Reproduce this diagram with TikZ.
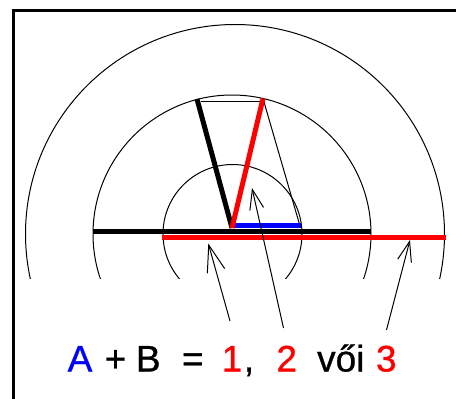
\documentclass[tikz,border=0pt]{standalone}
\usepackage{fontspec}
\setmainfont{Liberation Sans}
\newfontfamily\lblfont[FakeBold=0.8]{Liberation Sans}
\usetikzlibrary{arrows.meta}
\definecolor{pblue}{RGB}{0,0,255}
\definecolor{pred}{RGB}{255,0,0}
\tikzset{
  arcline/.style={line width=1pt, black},
  thinline/.style={line width=1pt, black},
  thick vec/.style={line width=5pt},
  ptr/.style={line width=1pt, -{Straight Barb[length=20pt,width=14pt,line width=1pt]}},
  bigptr/.style={line width=1pt, -{Straight Barb[length=27pt,width=18pt,line width=1pt]}},
  lbl/.style={inner sep=0pt, anchor=base, font=\lblfont\fontsize{37}{40}\selectfont}
}
\begin{document}
\begin{tikzpicture}[x=1pt,y=-1pt]
\useasboundingbox (0,0) rectangle (456,399);
\fill[white] (0,0) rectangle (456,399);
% frame
\draw[line width=2.5pt] (13.5,399) -- (13.5,10.5) -- (456,10.5);
% key points
\coordinate (O) at (232,228);
\coordinate (Btop) at (197,99);
\coordinate (Rtop) at (263,98.5);
\coordinate (Aend) at (300,226);
\coordinate (Bpar) at (201,101);
\coordinate (Rpar) at (262,101);
\coordinate (kL) at (93,231.8);
\coordinate (kR) at (371,231.8);
\coordinate (rL) at (161.5,237.8);
\coordinate (rR) at (446,237.8);
\coordinate (bL) at (233.5,225.5);
\coordinate (bR) at (301,225.5);
% circles
\begin{scope}
\clip (0,0) rectangle (456,278);
\draw[arcline] (232.5,234) circle[radius=69.5];
\draw[arcline] (232,234) circle[radius=139];
\draw[arcline] (235,234) circle[radius=209.5];
\end{scope}
% parallelogram thin sides
\draw[thinline] (Bpar) -- (Rpar);
\draw[thinline] (Rtop) -- (Aend);
% thick lines
\draw[thick vec, black] (kL) -- (kR);
\draw[thick vec, pred] (rL) -- (rR);
\draw[thick vec, pblue] (bL) -- (bR);
\draw[thick vec, black] (Btop) -- (O);
\draw[thick vec, pred] (O) -- (Rtop);
% text
\node[lbl, text=pblue] (tA) at (80,371.5) {A};
\node[lbl] (tPlus) at (115.5,371.5) {+};
\node[lbl] (tB) at (148.3,371.5) {B};
\node[lbl] (tEq) at (192.8,371.5) {=};
\node[lbl, text=pred] (t1) at (232,371.5) {1};
\node[lbl] (tComma) at (249,371.5) {,};
\node[lbl, text=pred] (t2) at (286.7,371.5) {2};
\node[lbl] (tOr) at (340.8,371.5) {vői};
\node[lbl, text=pred] (t3) at (386.3,371.5) {3};
% pointers
\coordinate (a1s) at (230,321);
\coordinate (a1e) at (208.3,243.5);
\coordinate (a2s) at (283.5,328);
\coordinate (a2e) at (252,188);
\coordinate (a3s) at (386.5,330);
\coordinate (a3e) at (410,240);
\draw[bigptr] (a1s) -- (a1e);
\draw[ptr] (a2s) -- (a2e);
\draw[ptr] (a3s) -- (a3e);
\end{tikzpicture}
\end{document}
